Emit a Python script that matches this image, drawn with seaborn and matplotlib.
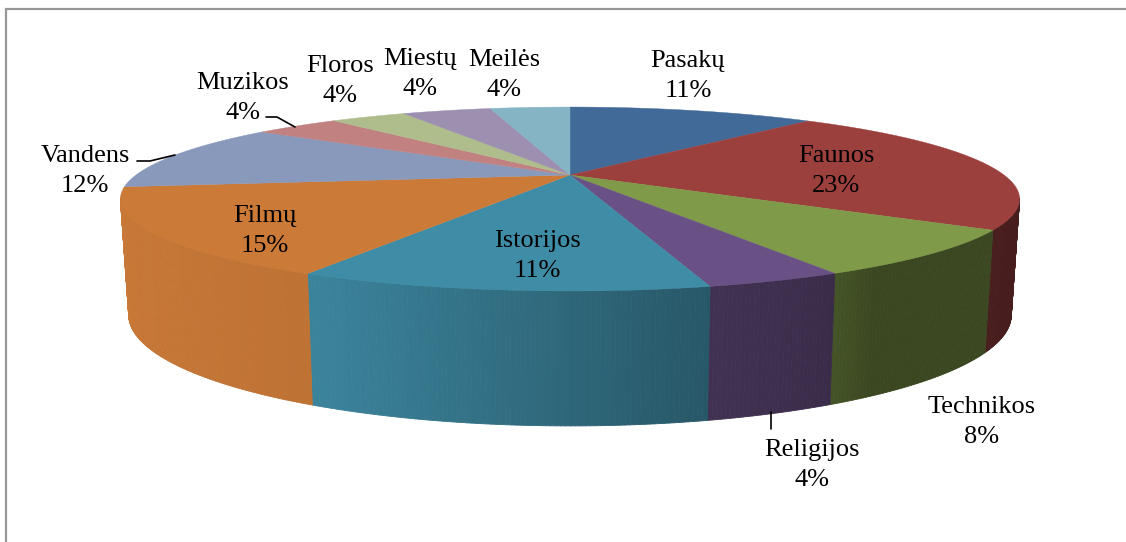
import numpy as np
import matplotlib
matplotlib.use('Agg')
import matplotlib.pyplot as plt
from matplotlib.collections import PolyCollection
import seaborn as sns

# values
categories = ['Pasakų', 'Faunos', 'Technikos', 'Religijos', 'Istorijos', 'Filmų',
              'Vandens', 'Muzikos', 'Floros', 'Miestų', 'Meilės']
shares = [11.4, 22.9, 7.92, 3.91, 11.57, 15.2, 11.9, 3.9, 3.5, 4.1, 3.7]
share_labels = ['11%', '23%', '8%', '4%', '11%', '15%', '12%', '4%', '4%', '4%', '4%']
top_colors = ['#426A99', '#9C403E', '#7F9A48', '#695085', '#3F8CA6', '#CB7A38',
              '#8899BC', '#C18181', '#AEBD8B', '#9C8FB0', '#85B4C5']

# label centres and leader lines, in pixels
label_xy = [(688, 76), (836, 171), (982, 422), (812, 465), (537, 256), (265, 231),
            (85, 171), (243, 98), (340, 81), (420, 74), (504, 75)]
leaders = [[(137, 161), (150, 161), (175, 155)],
           [(266, 117), (277, 117), (295, 127)],
           [(771, 412), (771, 429)]]

# perspective of the disc
cx = 570
persp = 0.261
top_disc = (434, 175, 85.7)
bottom_disc = (426, 286, 103.4)

sns.set_theme(style='white')
palette = sns.color_palette(top_colors)


def project(theta, disc):
    # theta is clockwise from 12 o'clock, v points at the viewer
    a, y0, b = disc
    u, v = np.sin(theta), -np.cos(theta)
    w = 1 - persp * v
    return cx + a * u / w, y0 + b * v / w


def side_shade(theta):
    return np.interp(np.sin(theta), [-1, -0.43, 0.25, 0.47, 0.55, 1],
                     [0.99, 0.93, 0.62, 0.55, 0.46, 0.46])


fig = plt.figure(figsize=(11.26, 5.42), dpi=100)
ax = fig.add_axes([0, 0, 1, 1])
ax.set_xlim(0, 1126)
ax.set_ylim(542, 0)
ax.axis('off')

# chart frame
ax.plot([6, 6, 1130], [545, 9, 9], color='#979797', lw=1.6, solid_joinstyle='miter')

edges = np.radians(np.cumsum([0] + shares) * 360 / sum(shares))

# side wall first, thin strips for the shading
strips, strip_colors = [], []
for i, col in enumerate(palette):
    steps = np.linspace(edges[i], edges[i + 1], int(np.degrees(edges[i + 1] - edges[i]) * 2) + 2)
    for t0, t1 in zip(steps[:-1], steps[1:]):
        if -np.cos((t0 + t1) / 2) < persp - 0.01:
            continue
        xa, ya = project(np.array([t0, t1]), top_disc)
        xb, yb = project(np.array([t1, t0]), bottom_disc)
        strips.append(list(zip(np.r_[xa, xb], np.r_[ya, yb])))
        strip_colors.append(tuple(np.array(col) * side_shade((t0 + t1) / 2)))
ax.add_collection(PolyCollection(strips, facecolors=strip_colors, edgecolors=strip_colors, linewidths=0.6))

# top of the disc
for i, col in enumerate(palette):
    t = np.linspace(edges[i], edges[i + 1], 120)
    x, y = project(t, top_disc)
    ax.fill(np.r_[cx, x], np.r_[top_disc[1], y], color=col, lw=0.3)

for line in leaders:
    xs, ys = zip(*line)
    ax.plot(xs, ys, color='black', lw=1.2)

for name, pct, (lx, ly) in zip(categories, share_labels, label_xy):
    ax.text(lx, ly, name + '\n' + pct, ha='center', va='center', color='black',
            family='Liberation Serif', fontsize=19, linespacing=1.5)

fig.savefig('out.png', dpi=100)
